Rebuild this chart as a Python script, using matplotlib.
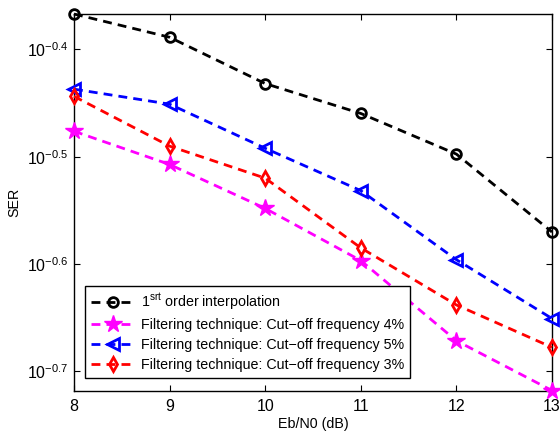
import numpy as np
import matplotlib
matplotlib.use("Agg")
import matplotlib.pyplot as plt
from matplotlib.ticker import FixedLocator, NullLocator

plt.rcParams['font.family'] = ['Liberation Sans', 'DejaVu Sans']
plt.rcParams['mathtext.fontset'] = 'custom'
plt.rcParams['mathtext.rm'] = 'Liberation Sans'
plt.rcParams['mathtext.it'] = 'Liberation Sans:italic'
plt.rcParams['mathtext.bf'] = 'Liberation Sans:bold'

# data
ebn0 = [8, 9, 10, 11, 12, 13]
ser_interp = [0.4296, 0.4087, 0.370, 0.347, 0.318, 0.269]
ser_cut4 = [0.334, 0.311, 0.283, 0.253, 0.213, 0.1914]
ser_cut5 = [0.3656, 0.354, 0.322, 0.294, 0.2535, 0.2234]
ser_cut3 = [0.360, 0.3235, 0.302, 0.260, 0.230, 0.210]

labels = [r'$1^{\mathrm{srt}}$ order interpolation',
          'Filtering technique: Cut\u2212off frequency 4%',
          'Filtering technique: Cut\u2212off frequency 5%',
          'Filtering technique: Cut\u2212off frequency 3%']
ytick_exp = [-0.7, -0.6, -0.5, -0.4]

fig = plt.figure(figsize=(5.6, 4.34), dpi=100)
ax = fig.add_axes([0.1321, 0.1002, 0.8536, 0.8675])

lw = 2.0
dash = (3.2, 2.2)
ax.plot(ebn0, ser_interp, color='k', ls='--', dashes=dash, lw=lw, marker='o',
        ms=7, mfc='none', mew=2, clip_on=False, label=labels[0], zorder=3)
ax.plot(ebn0, ser_cut4, color='#ff00ff', ls='--', dashes=dash, lw=lw, marker='*',
        ms=13, mfc='#ff00ff', mew=1, clip_on=False, label=labels[1], zorder=3)
ax.plot(ebn0, ser_cut5, color='#0000ff', ls='--', dashes=dash, lw=lw, marker='<',
        ms=8, mfc='none', mew=2, clip_on=False, label=labels[2], zorder=3)
ax.plot(ebn0, ser_cut3, color='#ff0000', ls='--', dashes=dash, lw=lw, marker='d',
        ms=7.5, mfc='none', mew=2, clip_on=False, label=labels[3], zorder=3)

ax.set_yscale('log')
ax.set_xlim(8, 13)
ax.set_ylim(min(ser_cut4), max(ser_interp))
ax.yaxis.set_major_locator(FixedLocator([10 ** e for e in ytick_exp]))
ax.yaxis.set_minor_locator(NullLocator())
ax.set_yticklabels([r'$10^{%s}$' % ('\u2212' + str(abs(e))) for e in ytick_exp])
ax.set_xticks(ebn0)
ax.set_xticklabels([str(v) for v in ebn0])

ax.tick_params(direction='in', top=True, right=True, length=4, width=0.8,
               labelsize=11.5, pad=4)
ax.tick_params(axis='x', pad=6)
ax.tick_params(which='minor', length=0)
for s in ax.spines.values():
    s.set_linewidth(1.0)

ax.set_xlabel('Eb/N0 (dB)', fontsize=10.3, labelpad=2)
ax.set_ylabel('SER', fontsize=10.3, labelpad=4)

leg = ax.legend(loc='lower left', bbox_to_anchor=(0.024, 0.033), borderaxespad=0,
                fontsize=10.3, numpoints=1, handlelength=3.1, handletextpad=0.4,
                labelspacing=0.42, fancybox=False, framealpha=1, edgecolor='k',
                borderpad=0.4)
leg.get_frame().set_linewidth(1.0)

fig.savefig('out.png', dpi=100)
